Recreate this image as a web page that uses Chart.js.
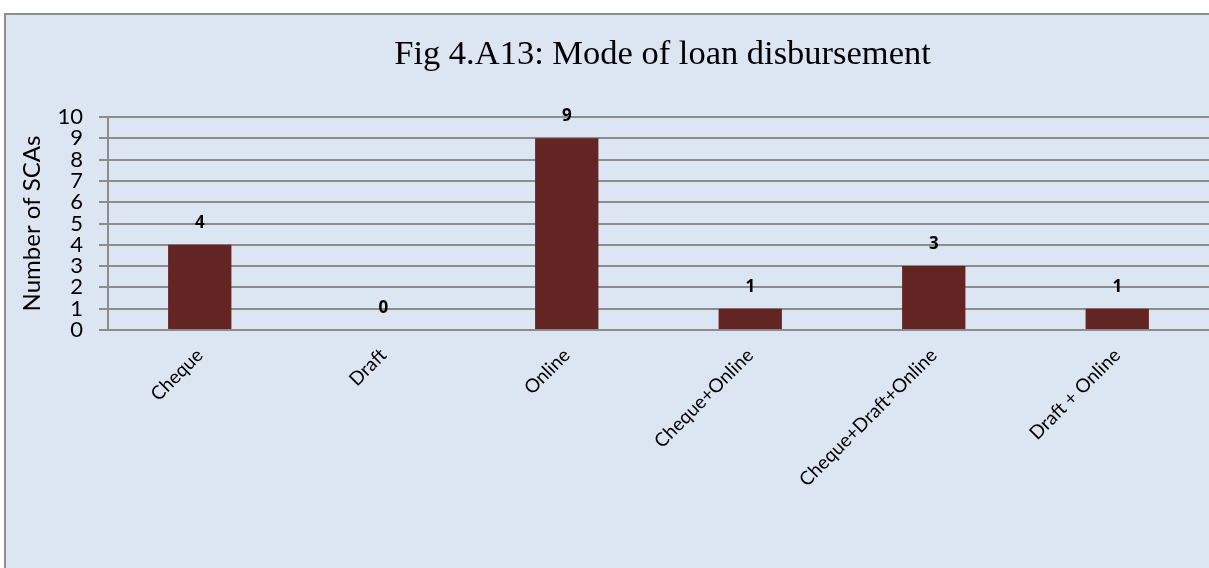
<!DOCTYPE html>
<html>
<head>
<meta charset="utf-8">
<script src="https://cdn.jsdelivr.net/npm/chart.js@4.4.1/dist/chart.umd.min.js"></script>
<style>
  html, body { margin: 0; padding: 0; background: #ffffff; overflow: hidden; }
  #frame {
    position: absolute; left: 4px; top: 13px; width: 1300px; height: 700px;
    background: #dce6f2; border: 2px solid #8e8e8e;
  }
  #wrap { position: absolute; left: 0; top: 0; width: 1209px; height: 568px; }
</style>
</head>
<body>
<div id="frame"></div>
<div id="wrap"><canvas id="chart" width="1209" height="568"></canvas></div>
<script>
// Loan disbursement modes and the number of SCAs using each
const categories = ['Cheque', 'Draft', 'Online', 'Cheque+Online', 'Cheque+Draft+Online', 'Draft + Online'];
const scaCounts = [4, 0, 9, 1, 3, 1];
const yTicks = [0, 1, 2, 3, 4, 5, 6, 7, 8, 9, 10];
const chartTitle = 'Fig 4.A13: Mode of loan disbursement';
const yAxisTitle = 'Number of SCAs';

const gridGray = '#8c8c8c';
const barColor = '#632523';
const sansFont = 'Lato, "Open Sans", sans-serif';
const boldFont = '"Open Sans", "Liberation Sans", sans-serif';

// Title centred over the plot area
const titlePlugin = {
  id: 'plotTitle',
  afterDraw(chart) {
    const { ctx, chartArea } = chart;
    ctx.save();
    ctx.font = '34.5px "Liberation Serif", serif';
    ctx.fillStyle = '#000';
    ctx.textAlign = 'center';
    ctx.textBaseline = 'alphabetic';
    ctx.fillText(chartTitle, (chartArea.left + chartArea.right) / 2 + 4, 64);
    ctx.restore();
  }
};

// Value labels above each bar
const valueLabels = {
  id: 'valueLabels',
  afterDatasetsDraw(chart) {
    const { ctx } = chart;
    const meta = chart.getDatasetMeta(0);
    ctx.save();
    ctx.font = 'bold 17px ' + boldFont;
    ctx.fillStyle = '#000';
    ctx.textAlign = 'center';
    ctx.textBaseline = 'alphabetic';
    meta.data.forEach((bar, i) => {
      ctx.fillText(String(scaCounts[i]), bar.x, bar.y - 17);
    });
    ctx.restore();
  }
};

new Chart(document.getElementById('chart'), {
  type: 'bar',
  data: {
    labels: categories,
    datasets: [{
      data: scaCounts,
      backgroundColor: barColor,
      borderWidth: 0,
      categoryPercentage: 1,
      barPercentage: 0.345
    }]
  },
  options: {
    responsive: false,
    animation: false,
    events: [],
    layout: { padding: { top: 117, right: 0, left: 0, bottom: 0 } },
    plugins: {
      legend: { display: false },
      title: { display: false },
      tooltip: { enabled: false }
    },
    scales: {
      x: {
        grid: { display: false, drawTicks: false },
        border: { display: false },
        ticks: {
          color: '#000',
          font: { family: sansFont, size: 19 },
          minRotation: 45,
          maxRotation: 45,
          autoSkip: false,
          padding: 14
        },
        afterFit(scale) { scale.height = 238; }
      },
      y: {
        min: 0,
        max: 10,
        afterBuildTicks(scale) { scale.ticks = yTicks.map(v => ({ value: v })); },
        grid: { color: gridGray, lineWidth: 2, tickLength: 9, drawTicks: true },
        border: { display: true, color: gridGray, width: 2 },
        ticks: {
          color: '#000',
          font: { family: sansFont, size: 22 },
          autoSkip: false,
          padding: 16
        },
        title: {
          display: true,
          text: yAxisTitle,
          color: '#000',
          font: { family: sansFont, size: 24 },
          padding: { top: 18, bottom: 0 }
        },
        afterFit(scale) { scale.width = 108; }
      }
    }
  },
  plugins: [titlePlugin, valueLabels]
});
</script>
</body>
</html>
